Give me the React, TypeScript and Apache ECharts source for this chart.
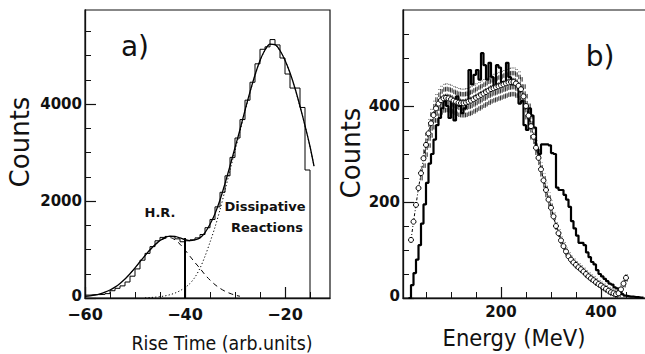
import React, { useEffect, useRef } from "react";
import * as echarts from "echarts";

// ---------- Panel a: rise-time spectrum ----------
const riseBinEdges = [
  -60, -59, -58, -57, -56, -55, -54, -53, -52, -51, -50, -49, -48, -47, -46,
  -45, -44, -43, -42, -41, -40, -39, -38, -37, -36, -35, -34, -33, -32, -31,
  -30, -29, -28, -27, -26, -25, -24, -23, -22, -21, -20, -19, -18, -17, -16,
];
const riseCounts = [
  60, 70, 70, 75, 90, 150, 200, 250, 330, 450, 600, 780, 920, 1060, 1180,
  1250, 1270, 1260, 1220, 1160, 1180, 1200, 1240, 1310, 1450, 1620, 1880, 2180, 2520, 2900,
  3300, 3680, 4080, 4450, 4830, 5130, 5180, 5330, 5220, 4950, 4620, 4330, 4330, 3930, 2640,
];
const riseLastEdge = -15;

const fitX = [
  -60, -59, -58, -57, -56, -55, -54, -53, -52, -51, -50, -49, -48, -47, -46,
  -45, -44, -43, -42, -41, -40, -39, -38, -37, -36, -35, -34, -33, -32, -31,
  -30, -29, -28, -27, -26, -25, -24, -23, -22, -21, -20, -19, -18, -17, -16,
  -15, -14.2,
];
const fitTotal = [
  35, 45, 60, 85, 120, 165, 225, 300, 390, 500, 620, 750, 875, 995, 1100,
  1185, 1245, 1275, 1270, 1240, 1205, 1185, 1200, 1240, 1350, 1520, 1740, 2020, 2360, 2725,
  3100, 3475, 3870, 4250, 4600, 4900, 5115, 5235, 5225, 5105, 4905, 4645, 4325, 3955, 3555,
  3125, 2720,
];

const hrX = [
  -52, -51, -50, -49, -48, -47, -46, -45, -44, -43, -42, -41, -40, -39, -38,
  -37, -36, -35, -34, -33, -32, -31, -30, -29,
];
const hrFit = [
  390, 500, 620, 745, 870, 985, 1090, 1175, 1230, 1245, 1200, 1110, 990, 860, 730,
  610, 480, 370, 275, 200, 140, 95, 60, 35,
];

const dissX = [
  -48, -47, -46, -45, -44, -43, -42, -41, -40, -39, -38, -37, -36, -35, -34,
  -33, -32, -31, -30, -29, -28, -27, -26, -25, -24, -23, -22, -21, -20, -19,
  -18, -17, -16, -15, -14.2,
];
const dissFit = [
  5, 10, 17, 28, 44, 68, 102, 150, 215, 300, 430, 615, 860, 1150, 1460,
  1820, 2220, 2630, 3040, 3440, 3850, 4240, 4590, 4890, 5110, 5230, 5220, 5100, 4900, 4640,
  4320, 3950, 3550, 3120, 2720,
];

const cutPosition = -40;
const cutHeight = 1235;

// ---------- Panel b: energy spectrum ----------
const energyBinEdges = [
  20, 25, 30, 35, 40, 45, 50, 55, 60, 65, 70, 75, 80, 85, 90, 95, 100, 105, 110, 115,
  120, 125, 130, 135, 140, 145, 150, 155, 160, 165, 170, 175, 180, 185, 190, 195, 200, 205, 210, 215,
  220, 225, 230, 235, 240, 245, 250, 255, 260, 265, 270, 275, 280, 285, 290, 295, 300, 305, 310, 315,
  320, 325, 330, 335, 340, 345, 350, 355, 360, 365, 370, 375, 380, 385, 390, 395, 400, 405, 410, 415,
  420, 425, 430, 435, 440, 445, 450, 455, 460, 465, 470, 475, 480,
];
const energyCounts = [
  27, 52, 80, 110, 155, 195, 240, 280, 300, 330, 360, 375, 395, 410, 400, 375, 410, 370, 420, 400,
  385, 395, 405, 475, 445, 465, 475, 455, 510, 485, 455, 490, 460, 435, 485, 480, 450, 445, 490, 460,
  445, 450, 445, 405, 410, 360, 350, 395, 380, 355, 310, 300, 320, 320, 320, 318, 302, 300, 230, 225,
  225, 215, 205, 190, 160, 145, 130, 115, 115, 110, 95, 85, 75, 70, 58, 50, 45, 40, 35, 30,
  28, 22, 20, 12, 8, 5, 4, 3, 3, 2, 2, 1, 1,
];
const energyLastEdge = 485;

const simEnergy = [
  20, 25, 30, 35, 40, 45, 50, 55, 60, 65, 70, 75, 80, 85, 90, 95, 100, 105, 110, 115,
  120, 125, 130, 135, 140, 145, 150, 155, 160, 165, 170, 175, 180, 185, 190, 195, 200, 205, 210, 215,
  220, 225, 230, 235, 240, 245, 250, 255, 260, 265, 270, 275, 280, 285, 290, 295, 300, 305, 310, 315,
  320, 325, 330, 335, 340, 345, 350, 355, 360, 365, 370, 375, 380, 385, 390, 395, 400, 405, 410, 415,
  420, 425, 430, 435, 440, 445, 450,
];
const simCounts = [
  121, 159, 194, 229, 260, 291, 319, 343, 364, 381, 395, 405, 412, 416, 417, 416, 414, 411, 409, 407,
  406, 406, 407, 409, 411, 414, 417, 420, 423, 426, 429, 432, 435, 437, 439, 441, 443, 445, 447, 449,
  450, 450, 447, 442, 435, 420, 400, 380, 358, 336, 313, 292, 268, 245, 225, 205, 188, 170, 150, 135,
  120, 108, 97, 87, 80, 74, 69, 64, 60, 55, 50, 45, 41, 37, 33, 29, 26, 22, 19, 15,
  12, 10, 8, 10, 18, 30, 42,
];
const simError = [
  0, 0, 0, 0, 15, 20, 25, 30, 30, 30, 30, 30, 30, 30, 30, 30, 30, 30, 30, 30,
  30, 30, 30, 30, 30, 30, 30, 30, 30, 30, 30, 30, 30, 30, 30, 30, 30, 30, 30, 30,
  30, 30, 30, 30, 28, 28, 28, 28, 28, 15, 15, 15, 15, 15, 15, 15, 15, 8, 8, 8,
  8, 8, 8, 8, 8, 8, 8, 8, 8, 8, 8, 8, 8, 8, 8, 8, 8, 8, 8, 8,
  8, 8, 8, 8, 8, 8, 8,
];

const riseMajor = [-60, -40, -20];
const riseMinor = [-55, -50, -45, -35, -30, -25, -15];
const countsAMajor = [0, 2000, 4000];
const countsAMinor = [500, 1000, 1500, 2500, 3000, 3500, 4500, 5000, 5500];
const energyMajor = [200, 400];
const energyMinor = [50, 100, 150, 250, 300, 350, 450];
const countsBMajor = [0, 200, 400];
const countsBMinor = [50, 100, 150, 250, 300, 350, 450, 500, 550];

const INK = "#111";
const FONT = "DejaVu Sans";

// Tick text: a true minus sign; the zero of the count axes sits a little higher
const tickFmt = (v: number) => (v < 0 ? "\u2212" + Math.abs(v) : v === 0 ? "{zero|0}" : String(v));

// Frames of the two panels; the minor-tick axes sit on an invisible twin grid.
const panelA = { left: 85, top: 10, width: 245, height: 288 };
const panelB = { left: 403, top: 10, width: 250, height: 288 };

function majorAxis(
  gridIndex: number,
  min: number,
  max: number,
  ticks: number[],
  horizontal: boolean,
  fontSize: number,
  margin: number
) {
  return {
    type: "value",
    gridIndex,
    min,
    max,
    position: horizontal ? "bottom" : "left",
    axisLine: { show: true, onZero: false, lineStyle: { color: INK, width: 1.3 } },
    axisTick: { show: true, inside: true, length: 11, customValues: ticks, lineStyle: { color: INK, width: 1.2 } },
    axisLabel: {
      show: true,
      customValues: ticks,
      formatter: tickFmt,
      color: INK,
      fontFamily: FONT,
      fontWeight: "bold",
      fontSize,
      lineHeight: 12,
      margin,
      rich: {
        zero: {
          color: INK,
          fontFamily: FONT,
          fontWeight: "bold",
          fontSize,
          lineHeight: 12,
          padding: [0, 0, 4, 0],
        },
      },
    },
    splitLine: { show: false },
  };
}

function minorAxis(gridIndex: number, min: number, max: number, ticks: number[], horizontal: boolean) {
  return {
    type: "value",
    gridIndex,
    min,
    max,
    position: horizontal ? "bottom" : "left",
    axisLine: { show: false, onZero: false },
    axisTick: { show: true, inside: true, length: 6, customValues: ticks, lineStyle: { color: INK, width: 1 } },
    axisLabel: { show: false },
    splitLine: { show: false },
  };
}

function pairs(xs: number[], ys: number[]) {
  return xs.map((x, i) => [x, ys[i]]);
}

export default function App() {
  const ref = useRef<HTMLDivElement>(null);

  useEffect(() => {
    if (!ref.current) return;
    const chart = echarts.init(ref.current, null, { renderer: "svg" });

    const riseHist = [...pairs(riseBinEdges, riseCounts), [riseLastEdge, 0]];
    const energyHist = [[energyBinEdges[0] - 5, 0], ...pairs(energyBinEdges, energyCounts), [energyLastEdge, 0]];
    const band = simEnergy
      .map((e, i) => [e, simCounts[i] - simError[i], simCounts[i] + simError[i], simError[i]])
      .filter((d) => d[3] > 0);

    chart.setOption({
      animation: false,
      grid: [
        { ...panelA, show: true, borderColor: INK, borderWidth: 1.2, backgroundColor: "transparent" },
        { ...panelB, show: true, borderColor: INK, borderWidth: 1.2, backgroundColor: "transparent" },
        { ...panelA, show: false },
        { ...panelB, show: false },
      ],
      xAxis: [
        majorAxis(0, -60, -11, riseMajor, true, 16, 10),
        majorAxis(1, 4, 504, energyMajor, true, 15, 8),
        minorAxis(2, -60, -11, riseMinor, true),
        minorAxis(3, 4, 504, energyMinor, true),
      ],
      yAxis: [
        majorAxis(0, 0, 5940, countsAMajor, false, 15, 3),
        majorAxis(1, 0, 600, countsBMajor, false, 15, 3),
        minorAxis(2, 0, 5940, countsAMinor, false),
        minorAxis(3, 0, 600, countsBMinor, false),
      ],
      series: [
        {
          type: "line",
          xAxisIndex: 0,
          yAxisIndex: 0,
          step: "end",
          symbol: "none",
          data: riseHist,
          lineStyle: { color: "#000", width: 1 },
          z: 2,
        },
        {
          type: "line",
          xAxisIndex: 0,
          yAxisIndex: 0,
          symbol: "none",
          data: [[cutPosition, 0], [cutPosition, cutHeight]],
          lineStyle: { color: "#000", width: 2 },
          z: 3,
        },
        {
          type: "line",
          xAxisIndex: 0,
          yAxisIndex: 0,
          symbol: "none",
          smooth: 0.3,
          data: pairs(fitX, fitTotal),
          lineStyle: { color: "#000", width: 1.3 },
          z: 3,
        },
        {
          type: "line",
          xAxisIndex: 0,
          yAxisIndex: 0,
          symbol: "none",
          smooth: 0.3,
          data: pairs(hrX, hrFit),
          lineStyle: { color: "#000", width: 1, type: [5, 4] },
          z: 3,
        },
        {
          type: "line",
          xAxisIndex: 0,
          yAxisIndex: 0,
          symbol: "none",
          smooth: 0.3,
          data: pairs(dissX, dissFit),
          lineStyle: { color: "#000", width: 1, type: [1.2, 2.2] },
          z: 3,
        },
        {
          type: "custom",
          xAxisIndex: 1,
          yAxisIndex: 1,
          data: band,
          encode: { x: 0, y: [1, 2] },
          z: 1,
          renderItem: (_params: any, api: any) => {
            const e = api.value(0);
            const lo = api.coord([e, api.value(1)]);
            const hi = api.coord([e, api.value(2)]);
            const x = Math.round(lo[0]) + 0.5;
            return {
              type: "group",
              children: [0, 1.5].map((dx) => ({
                type: "line",
                shape: { x1: x + dx - 0.75, y1: lo[1], x2: x + dx - 0.75, y2: hi[1] },
                style: { stroke: "#000", lineWidth: 0.75, lineDash: [4.5, 2.5] },
              })),
            };
          },
        },
        {
          type: "line",
          xAxisIndex: 1,
          yAxisIndex: 1,
          step: "end",
          symbol: "none",
          data: energyHist,
          lineStyle: { color: "#000", width: 2.2 },
          z: 2,
        },
        {
          type: "line",
          xAxisIndex: 1,
          yAxisIndex: 1,
          symbol: "circle",
          symbolSize: 5,
          showAllSymbol: true,
          data: pairs(simEnergy, simCounts),
          itemStyle: { color: "#fff", borderColor: "#000", borderWidth: 1 },
          lineStyle: { color: "#000", width: 1, type: [3, 2, 1, 2] },
          z: 4,
        },
      ],
      graphic: [
        { type: "text", x: 20, y: 142, rotation: Math.PI / 2, style: { text: "Counts", font: `26px "${FONT}"`, fill: INK, align: "center", verticalAlign: "middle" } },
        { type: "text", x: 222, y: 343, scaleX: 0.87, style: { text: "Rise Time (arb.units)", font: `20px "${FONT}"`, fill: INK, align: "center", verticalAlign: "middle" } },
        { type: "text", x: 351, y: 153, rotation: Math.PI / 2, style: { text: "Counts", font: `26px "${FONT}"`, fill: INK, align: "center", verticalAlign: "middle" } },
        { type: "text", x: 514, y: 338, scaleX: 0.92, style: { text: "Energy (MeV)", font: `23px "${FONT}"`, fill: INK, align: "center", verticalAlign: "middle" } },
        { type: "text", x: 135, y: 46, style: { text: "a)", font: `28px "${FONT}"`, fill: INK, align: "center", verticalAlign: "middle" } },
        { type: "text", x: 600, y: 56, style: { text: "b)", font: `28px "${FONT}"`, fill: INK, align: "center", verticalAlign: "middle" } },
        { type: "text", x: 160, y: 212, style: { text: "H.R.", font: `bold 13px "${FONT}"`, fill: INK, align: "center", verticalAlign: "middle" } },
        { type: "text", x: 265, y: 206, style: { text: "Dissipative", font: `bold 13px "${FONT}"`, fill: INK, align: "center", verticalAlign: "middle" } },
        { type: "text", x: 267, y: 227, style: { text: "Reactions", font: `bold 13px "${FONT}"`, fill: INK, align: "center", verticalAlign: "middle" } },
      ],
    });

    return () => chart.dispose();
  }, []);

  return (
    <div style={{ position: "fixed", left: 0, top: 0, width: 645, height: 354, overflow: "hidden", background: "#fff" }}>
      <div ref={ref} style={{ width: 660, height: 354 }} />
    </div>
  );
}
